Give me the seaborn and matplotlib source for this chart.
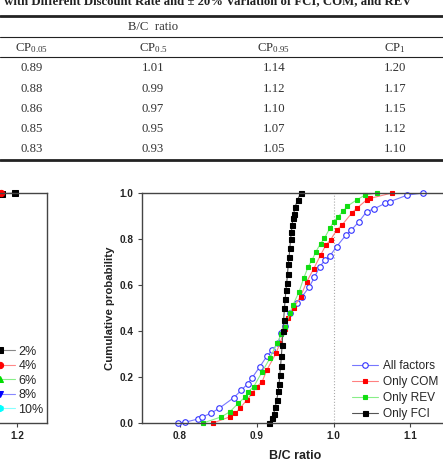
import numpy as np
import pandas as pd
import seaborn as sns
import matplotlib.pyplot as plt
from matplotlib.lines import Line2D

# --- table values (B/C ratio at cumulative probabilities), rows = discount rates ---
rates = ['2%', '4%', '6%', '8%', '10%']
cp_005 = [0.89, 0.88, 0.86, 0.85, 0.83]
cp_05 = [1.01, 0.99, 0.97, 0.95, 0.93]
cp_095 = [1.14, 1.12, 1.10, 1.07, 1.05]
cp_1 = [1.20, 1.17, 1.15, 1.12, 1.10]

# --- right panel: cumulative probability curves ---
all_bc = [0.797, 0.806, 0.823, 0.828, 0.840, 0.851, 0.870, 0.880, 0.888, 0.894, 0.904, 0.913,
          0.920, 0.928, 0.931, 0.937, 0.943, 0.952, 0.959, 0.968, 0.975, 0.982, 0.989, 0.995,
          1.004, 1.016, 1.023, 1.033, 1.043, 1.052, 1.067, 1.073, 1.096, 1.117]
all_p = [0.000, 0.003, 0.017, 0.025, 0.042, 0.064, 0.110, 0.143, 0.170, 0.197, 0.245, 0.290,
         0.317, 0.346, 0.390, 0.420, 0.477, 0.520, 0.550, 0.590, 0.633, 0.680, 0.709, 0.726,
         0.767, 0.817, 0.839, 0.875, 0.919, 0.930, 0.955, 0.962, 0.991, 1.000]

com_bc = [0.843, 0.865, 0.872, 0.878, 0.887, 0.894, 0.900, 0.907, 0.913, 0.925, 0.930, 0.937,
          0.941, 0.948, 0.957, 0.965, 0.974, 0.983, 0.990, 0.996, 1.004, 1.011, 1.024, 1.030,
          1.043, 1.048, 1.076]
com_p = [0.000, 0.027, 0.042, 0.064, 0.100, 0.129, 0.158, 0.180, 0.230, 0.303, 0.346, 0.410,
         0.455, 0.500, 0.550, 0.614, 0.670, 0.730, 0.774, 0.796, 0.839, 0.861, 0.914, 0.933,
         0.970, 0.977, 1.000]

rev_bc = [0.830, 0.854, 0.865, 0.876, 0.885, 0.889, 0.896, 0.907, 0.917, 0.926, 0.932, 0.937,
          0.943, 0.947, 0.955, 0.961, 0.967, 0.972, 0.977, 0.983, 0.988, 0.995, 1.000, 1.006,
          1.012, 1.018, 1.030, 1.041, 1.057]
rev_p = [0.000, 0.027, 0.049, 0.086, 0.114, 0.136, 0.158, 0.223, 0.281, 0.346, 0.385, 0.419,
         0.477, 0.513, 0.570, 0.629, 0.680, 0.709, 0.745, 0.780, 0.803, 0.846, 0.875, 0.897,
         0.920, 0.943, 0.970, 0.991, 1.000]

fci_bc = [0.916, 0.920, 0.922, 0.924, 0.926, 0.928, 0.929, 0.930, 0.931, 0.932, 0.933, 0.934,
          0.935, 0.936, 0.937, 0.938, 0.939, 0.940, 0.941, 0.942, 0.943, 0.944, 0.945, 0.946,
          0.947, 0.948, 0.950, 0.953, 0.957]
fci_p = [0.00, 0.02, 0.04, 0.07, 0.10, 0.14, 0.17, 0.21, 0.25, 0.29, 0.34, 0.40, 0.45, 0.50,
         0.54, 0.58, 0.61, 0.65, 0.69, 0.72, 0.76, 0.80, 0.83, 0.86, 0.89, 0.91, 0.94, 0.97, 1.00]

# --- left panel (only the upper tail is inside the picture) ---
tail_bc = {'2%': [1.150, 1.170, 1.196], '4%': [1.140, 1.168], '6%': [1.130, 1.150],
           '8%': [1.100, 1.120], '10%': [1.080, 1.100]}
tail_p = {'2%': [0.990, 0.997, 1.0], '4%': [0.995, 1.0], '6%': [0.995, 1.0],
          '8%': [0.995, 1.0], '10%': [0.995, 1.0]}

sns.set_style('ticks')
plt.rcParams['font.family'] = ['Liberation Sans', 'DejaVu Sans']
plt.rcParams['mathtext.default'] = 'regular'

W, H = 443, 463
fig = plt.figure(figsize=(W / 100, H / 100), dpi=100)


def fx(px):
    return px / W


def fy(py):
    return 1 - py / H


# ---------------- table ----------------
serif = ['Liberation Serif', 'DejaVu Serif']
fig.text(fx(-2), fy(4.5), '| with Different Discount Rate and \u00b1 20% Variation of FCI, COM, and REV',
         family=serif, weight='bold', fontsize=9.2, va='baseline', ha='left', color='#222222')
for y, lw in [(16, 2.0), (37, 0.8), (57, 0.8), (160, 2.0)]:
    fig.add_artist(Line2D([0, 1], [fy(y), fy(y)], color='#222222', lw=lw))
fig.text(fx(153), fy(27), 'B/C  ratio', family=serif, fontsize=9.2, ha='center', va='center', color='#333333')
col_x = [32, 153, 274, 395]
headers = ['CP$_{0.05}$', 'CP$_{0.5}$', 'CP$_{0.95}$', 'CP$_{1}$']
for cx, h in zip(col_x, headers):
    fig.text(fx(cx), fy(48), h, family=serif, fontsize=9.2, ha='center', va='center', color='#333333')
row_y = [68, 89, 109, 129, 149]
for ry, a, b, c, d in zip(row_y, cp_005, cp_05, cp_095, cp_1):
    for cx, v in zip(col_x, [a, b, c, d]):
        fig.text(fx(cx), fy(ry), f'{v:.2f}', family=serif, fontsize=9.2, ha='center', va='center',
                 color='#333333')

spine_col = '#444444'

# ---------------- left panel ----------------
axl = fig.add_axes([fx(-183), fy(423), 230 / W, 230 / H])
left_style = {
    '2%': dict(color='#888888', marker='s', mfc='black', mec='black'),
    '4%': dict(color='#ff8888', marker='o', mfc='red', mec='red'),
    '6%': dict(color='#88ee88', marker='^', mfc='#00dd00', mec='#00dd00'),
    '8%': dict(color='#8888ff', marker='v', mfc='#0000ff', mec='#0000ff'),
    '10%': dict(color='#88ffff', marker='h', mfc='#00ffff', mec='#00ffff'),
}
for r in rates:
    st = left_style[r]
    sns.lineplot(x=tail_bc[r], y=tail_p[r], ax=axl, sort=False, estimator=None, color=st['color'],
                 lw=0.8, marker=st['marker'], markerfacecolor=st['mfc'], markeredgecolor=st['mec'],
                 markersize=4.5, label=r, clip_on=False)
axl.set_xlim(0.80, 1.26)
axl.set_ylim(0, 1)
axl.set_xticks([1.2])
axl.set_xticklabels(['1.2'], fontweight='bold')
axl.set_yticks([])
axl.tick_params(axis='x', direction='out', length=3, width=0.8, pad=3, labelsize=7.2,
                colors=spine_col, labelcolor='#222222')
for s in ['top', 'right', 'bottom']:
    axl.spines[s].set_color(spine_col)
    axl.spines[s].set_linewidth(1.0)
axl.spines['left'].set_visible(False)
axl.set_xlabel('')
axl.set_ylabel('')
hl, ll = axl.get_legend_handles_labels()
axl.legend(hl, ll, loc='lower right', bbox_to_anchor=(1.012, 0.005), frameon=False, borderpad=0,
           fontsize=9, handlelength=2.4, handletextpad=0.25, labelspacing=0.2, numpoints=1)

# ---------------- right panel ----------------
ax = fig.add_axes([fx(141.6), fy(423), 0.4 * 768 / W, 230 / H])
ax.axvline(1.0, color='#aaaaaa', lw=0.8, ls=':', zorder=0)

series = [
    ('All factors', all_bc, all_p, dict(color='#7777ff', marker='o', mfc='white', mec='#3333ff', ms=4.0)),
    ('Only COM', com_bc, com_p, dict(color='#ff8080', marker='s', mfc='red', mec='red', ms=3.3)),
    ('Only REV', rev_bc, rev_p, dict(color='#88ee88', marker='s', mfc='#11dd11', mec='#11dd11', ms=3.3)),
    ('Only FCI', fci_bc, fci_p, dict(color='#555555', marker='s', mfc='black', mec='black', ms=3.6)),
]
for name, xs, ps, st in series:
    sns.lineplot(x=xs, y=ps, ax=ax, sort=False, estimator=None, color=st['color'], lw=0.8,
                 marker=st['marker'], markerfacecolor=st['mfc'], markeredgecolor=st['mec'],
                 markersize=st['ms'], markeredgewidth=0.8, label=name, clip_on=False)

ax.set_xlim(0.75, 1.15)
ax.set_ylim(0, 1)
ax.set_xticks([0.8, 0.9, 1.0, 1.1])
ax.set_xticklabels(['0.8', '0.9', '1.0', '1.1'], fontweight='bold')
ax.set_yticks([0.0, 0.2, 0.4, 0.6, 0.8, 1.0])
ax.set_yticklabels(['0.0', '0.2', '0.4', '0.6', '0.8', '1.0'], fontweight='bold')
ax.tick_params(direction='out', length=3, width=0.8, pad=3, labelsize=7.2,
               colors=spine_col, labelcolor='#222222')
for s in ['top', 'left', 'bottom', 'right']:
    ax.spines[s].set_color(spine_col)
    ax.spines[s].set_linewidth(1.0)
ax.set_xlabel('B/C ratio', fontsize=9, fontweight='bold', labelpad=6, color='#222222')
ax.set_ylabel('Cumulative probability', fontsize=8.2, fontweight='bold', labelpad=3, color='#222222')
h, l = ax.get_legend_handles_labels()
ax.legend(h, l, loc='lower left', bbox_to_anchor=(0.667, -0.012), frameon=False, borderpad=0,
          fontsize=8.6, handlelength=2.1, handletextpad=0.45, labelspacing=0.32, numpoints=1)

fig.savefig('out.png', dpi=100)
plt.close(fig)
